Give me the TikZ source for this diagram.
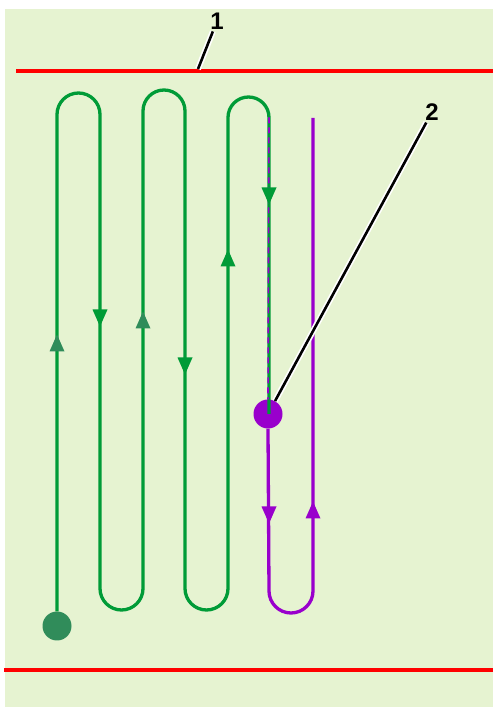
\documentclass[tikz,border=0pt]{standalone}
\usepackage{fontspec}
\setmainfont{Liberation Sans}
\usetikzlibrary{calc}

\definecolor{bgcol}{RGB}{230,243,209}
\definecolor{gcol}{RGB}{0,155,55}
\definecolor{tcol}{RGB}{48,140,90}
\definecolor{pcol}{RGB}{153,0,204}
\definecolor{rcol}{RGB}{255,0,0}

\begin{document}
\begin{tikzpicture}[x=1pt,y=1pt,
  gline/.style={draw=gcol,line width=3.3pt},
  pline/.style={draw=pcol,line width=3.3pt},
  redline/.style={draw=rcol,line width=4.5pt},
  dot/.style={circle,inner sep=0pt,minimum size=29pt},
  lbl/.style={font=\fontsize{24}{28}\selectfont\bfseries,inner sep=2pt},
  leader/.style={draw=black,line width=2.6pt,preaction={draw=white,line width=6pt}},
  pics/tri/.style={code={\fill (-7.5,-8.5) -- (7.5,-8.5) -- (0,8.5) -- cycle;}}]
\useasboundingbox (0,0) rectangle (493,707);
\fill[bgcol] (5,0) rectangle (493,698);
% boundaries
\draw[redline] (16,636) -- (493,636);
\draw[redline] (4,37) -- (493,37);
% dots
\node[dot,fill=tcol] (start) at (57,81) {};
\node[dot,fill=pcol] (pdot) at (268,293) {};
% green meander
\draw[gline] (start.north) -- (57,592.5) arc[start angle=180,end angle=0,radius=21.5]
  -- (100,118.5) arc[start angle=180,end angle=360,radius=21.5]
  -- (143,596) arc[start angle=180,end angle=0,radius=21]
  -- (185,118.5) arc[start angle=180,end angle=360,radius=21.5]
  -- (228,589.5) arc[start angle=180,end angle=0,radius=20.5]
  -- (269,293);
\draw[pcol,line width=1.6pt,dash pattern=on 6pt off 4pt] (269,589.5) -- (pdot.north);
% purple loop
\draw[pline] (pdot.south) -- (269,116) arc[start angle=180,end angle=360,radius=22] -- (313,589);
% direction marks
\pic[fill=tcol] at (57,364) {tri};
\pic[fill=gcol,rotate=180] at (100,389) {tri};
\pic[fill=tcol] at (143,387) {tri};
\pic[fill=gcol,rotate=180] at (185,341) {tri};
\pic[fill=gcol] at (228,449) {tri};
\pic[fill=gcol,rotate=180] at (269,511) {tri};
\pic[fill=pcol,rotate=180] at (269,192) {tri};
\pic[fill=pcol] at (313,197) {tri};
% labels
\node[lbl] (l1) at (217,686) {1};
\coordinate (r1) at (198,638);
\draw[leader] (l1) -- (r1);
\node[lbl] (l2) at (432,595) {2};
\draw[leader] (l2) -- (pdot);
\end{tikzpicture}
\end{document}
